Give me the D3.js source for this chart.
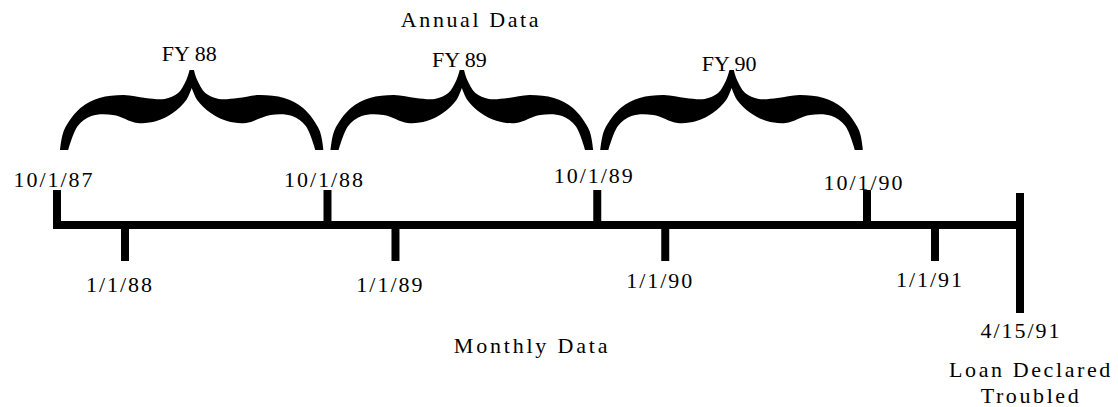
<!DOCTYPE html>
<html><head><meta charset="utf-8">
<script src="https://cdn.jsdelivr.net/npm/d3@7"></script>
<style>
body{margin:0;background:#fff;}
</style>
</head><body>
<svg id="c" width="1118" height="407"></svg>
<script>
// ---- data ----
const fiscalStarts = ["1987-10-01","1988-10-01","1989-10-01","1990-10-01"];
const fiscalLabels = ["10/1/87","10/1/88","10/1/89","10/1/90"];
const calendarStarts = ["1988-01-01","1989-01-01","1990-01-01","1991-01-01"];
const calendarLabels = ["1/1/88","1/1/89","1/1/90","1/1/91"];
const fiscalYears = ["FY 88","FY 89","FY 90"];
const eventDate = "1991-04-15";
const eventLabel = "4/15/91";
const eventNote = ["Loan Declared","Troubled"];
const annualTitle = "Annual Data";
const monthlyTitle = "Monthly Data";

// ---- setup ----
const FONT = "'Liberation Serif'";
const parse = d3.timeParse("%Y-%m-%d");
const svg = d3.select("#c");
const x = d3.scaleTime()
  .domain([parse(fiscalStarts[0]), parse(calendarStarts[3]), parse(eventDate)])
  .range([57, 935, 1020]);

const lineY = 225, sw = 8;
const g = svg.append("g");

// main timeline
g.append("line")
  .attr("x1", x(parse(fiscalStarts[0])) - sw/2).attr("x2", x(parse(eventDate)) + sw/2)
  .attr("y1", lineY).attr("y2", lineY)
  .attr("stroke", "#000").attr("stroke-width", sw);

// fiscal (up) ticks
g.selectAll(".ft").data(fiscalStarts).join("line")
  .attr("x1", d => x(parse(d))).attr("x2", d => x(parse(d)))
  .attr("y1", 190).attr("y2", lineY)
  .attr("stroke", "#000").attr("stroke-width", sw);

// calendar (down) ticks
g.selectAll(".ct").data(calendarStarts).join("line")
  .attr("x1", d => x(parse(d))).attr("x2", d => x(parse(d)))
  .attr("y1", lineY).attr("y2", 261)
  .attr("stroke", "#000").attr("stroke-width", sw);

// event tick
g.append("line")
  .attr("x1", x(parse(eventDate))).attr("x2", x(parse(eventDate)))
  .attr("y1", 193).attr("y2", 313)
  .attr("stroke", "#000").attr("stroke-width", sw);

function txt(sel){ return sel.attr("font-family", FONT).attr("fill","#000").attr("text-anchor","middle"); }

// labels
const fs = 22;
txt(g.selectAll(".fl").data(fiscalStarts).join("text"))
  .attr("x", d => x(parse(d)) - 3)
  .attr("y", (d,i) => [187,187,183,190][i])
  .attr("font-size", fs).attr("letter-spacing", 2)
  .text((d,i) => fiscalLabels[i]);

txt(g.selectAll(".cl").data(calendarStarts).join("text"))
  .attr("x", d => x(parse(d)) - 5)
  .attr("y", (d,i) => [292,292,288,287][i])
  .attr("font-size", fs).attr("letter-spacing", 2)
  .text((d,i) => calendarLabels[i]);

txt(g.append("text")).attr("x", x(parse(eventDate))+1).attr("y", 338)
  .attr("font-size", fs).attr("letter-spacing", 2)
  .text(eventLabel);
txt(g.selectAll(".en").data(eventNote).join("text"))
  .attr("x", x(parse(eventDate)) + 11).attr("y", (d,i) => 377 + i*26)
  .attr("font-size", fs).attr("letter-spacing", 2.6)
  .text(d => d);

txt(g.append("text")).attr("x", 532).attr("y", 353)
  .attr("font-size", fs).attr("letter-spacing", 2.8)
  .text(monthlyTitle);
txt(g.append("text")).attr("x", 471).attr("y", 27)
  .attr("font-size", fs).attr("letter-spacing", 2.6)
  .text(annualTitle);

// braces (shape template: fraction of span, y)
const outerL = [[0.015,150],[0.03,130],[0.09,108],[0.16,98],[0.25,95],[0.33,98],[0.40,99],[0.45,93],[0.48,80],[0.492,70]];
const innerL = [[0.505,84],[0.48,100],[0.43,113],[0.37,121],[0.30,123],[0.21,115],[0.13,116],[0.08,126],[0.045,150]];
const smooth = d3.line().curve(d3.curveCatmullRom.alpha(0.5));
function bracePath(x0, x1) {
  const W = x1 - x0;
  const L = u => x0 + u*W, R = u => x0 + (1-u)*W;
  const oL = outerL.map(p => [L(p[0]), p[1]]);
  const oR = outerL.slice().reverse().map(p => [R(p[0]), p[1]]);
  const iR = innerL.slice().reverse().map(p => [R(p[0]), p[1]]);
  const iL = innerL.map(p => [L(p[0]), p[1]]);
  return smooth(oL) + smooth(oR).replace(/^M/, "L") + smooth(iR).replace(/^M/, "L") + smooth(iL).replace(/^M/, "L") + "Z";
}
g.selectAll(".brace").data(fiscalYears).join("path")
  .attr("d", (d,i) => bracePath(x(parse(fiscalStarts[i])) - 1, x(parse(fiscalStarts[i+1]))))
  .attr("fill", "#000");

txt(g.selectAll(".fy").data(fiscalYears).join("text"))
  .attr("x", (d,i) => (x(parse(fiscalStarts[i])) + x(parse(fiscalStarts[i+1])))/2 - 3)
  .attr("y", (d,i) => [61,67,71][i])
  .attr("font-size", fs)
  .text(d => d);
</script>
</body></html>
